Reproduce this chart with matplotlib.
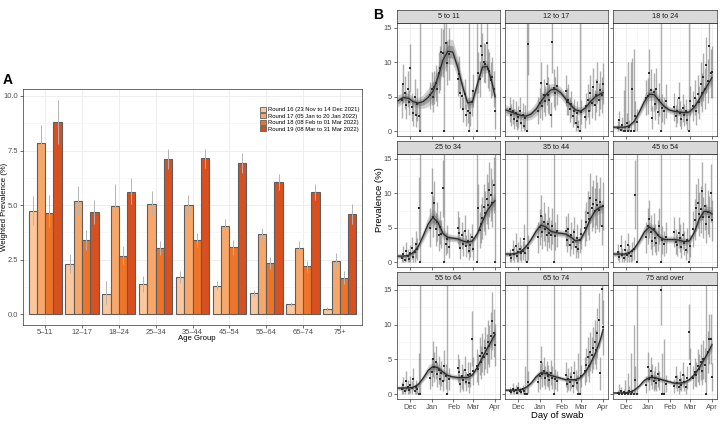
import numpy as np
import matplotlib.pyplot as plt
from matplotlib.patches import Patch

plt.rcParams['font.family'] = ['Liberation Sans', 'DejaVu Sans']

# ---------------- panel A data ----------------
age_groups = ['5–11', '12–17', '18–24', '25–34', '35–44', '45–54', '55–64', '65–74', '75+']
round_names = ['Round 16 (23 Nov to 14 Dec 2021)', 'Round 17 (05 Jan to 20 Jan 2022)',
               'Round 18 (08 Feb to 01 Mar 2022)', 'Round 19 (08 Mar to 31 Mar 2022)']
round_colors = ['#fcc89b', '#f8a76a', '#f07428', '#d8501f']

r16_mid = [4.72, 2.32, 0.93, 1.37, 1.71, 1.31, 0.98, 0.49, 0.23]
r16_lo = [4.10, 1.89, 0.45, 1.02, 1.44, 1.10, 0.82, 0.40, 0.15]
r16_hi = [5.42, 2.78, 1.51, 1.74, 1.98, 1.53, 1.13, 0.58, 0.32]
r17_mid = [7.84, 5.19, 4.95, 5.07, 5.01, 4.05, 3.69, 3.05, 2.46]
r17_lo = [7.08, 4.53, 4.09, 4.53, 4.56, 3.69, 3.39, 2.75, 2.12]
r17_hi = [8.66, 5.89, 5.95, 5.63, 5.45, 4.38, 3.97, 3.34, 2.79]
r18_mid = [4.66, 3.42, 2.69, 3.04, 3.42, 3.08, 2.37, 2.20, 1.68]
r18_lo = [4.00, 2.96, 2.29, 2.70, 3.08, 2.73, 2.09, 1.92, 1.37]
r18_hi = [5.48, 3.88, 3.15, 3.34, 3.74, 3.42, 2.63, 2.46, 2.00]
r19_mid = [8.79, 4.69, 5.62, 7.11, 7.15, 6.95, 6.08, 5.62, 4.60]
r19_lo = [7.82, 4.15, 5.04, 6.67, 6.70, 6.47, 5.71, 5.25, 4.12]
r19_hi = [9.80, 5.25, 6.23, 7.56, 7.59, 7.40, 6.44, 5.98, 5.05]

# ---------------- panel B data ----------------
# days counted from 1 Nov 2021
month_days = [30, 61, 92, 120, 151]
month_labels = ['Dec', 'Jan', 'Feb', 'Mar', 'Apr']

swab_days = [19, 21, 23, 25, 27, 29, 31, 33, 35, 37, 39, 41, 43, 45,
             59, 61, 63, 65, 67, 69, 71, 73, 75, 77, 79, 81, 83, 86,
             98, 100, 102, 104, 106, 108, 110, 112, 114, 116, 118, 120,
             125, 127, 129, 131, 133, 135, 137, 139, 141, 143, 145, 147, 149, 151]
knot_days = [13, 21, 28, 35, 42, 49, 56, 63, 70, 77, 84, 91, 98, 105, 112, 119, 126, 133, 140, 147, 151]

p_5_11 = [4.5, 6.9, 5.6, 3.8, 6.1, 4.2, 9.2, 3.5, 2.6, 5.0, 2.4, 3.9, 2.2, 0.0,
          5.2, 6.2, 5.0, 6.4, 7.0, 6.1, 8.5, 9.2, 11.5, 11.3, 0.0, 12.8, 9.9, 11.2,
          7.6, 8.3, 5.6, 5.1, 3.2, 5.4, 2.4, 3.0, 0.0, 2.6, 4.2, 5.9,
          0.0, 8.5, 7.6, 12.4, 11.0, 10.0, 9.8, 12.8, 9.1, 8.7, 7.5, 7.9, 6.1, 3.0]
e_5_11 = [2.5, 2.8, 2.4, 2.0, 2.6, 1.8, 3.5, 2.0, 1.8, 2.6, 1.8, 2.4, 2.0, 16,
          2.0, 2.4, 2.2, 2.4, 2.6, 2.4, 3.0, 3.2, 3.5, 3.5, 16, 4.0, 3.2, 3.8,
          2.5, 2.6, 2.2, 2.0, 1.8, 2.2, 1.6, 1.8, 16, 1.8, 2.0, 2.4,
          16, 3.0, 2.6, 3.5, 3.2, 2.8, 2.8, 3.5, 2.8, 2.8, 2.6, 2.8, 2.6, 2.6]
fit_5_11 = [4.4, 4.9, 4.8, 4.3, 4.1, 4.3, 4.9, 5.8, 7.8, 10.3, 11.6, 11.5, 9.3, 6.5, 4.1, 4.3, 6.9, 9.3, 9.4, 6.9, 5.0]
band_5_11 = [0.9, 0.7, 0.7, 0.7, 0.7, 1.0, 1.3, 1.5, 1.6, 1.8, 1.8, 1.8, 1.5, 1.0, 0.8, 0.8, 0.9, 0.9, 0.9, 1.0, 1.2]

p_12_17 = [3.2, 2.4, 2.9, 1.8, 2.6, 1.5, 2.1, 3.0, 1.2, 2.3, 0.8, 2.0, 0.0, 12.7,
           3.0, 4.1, 7.0, 3.6, 5.2, 4.4, 6.8, 5.3, 4.6, 2.4, 13.0, 6.3, 5.5, 6.6,
           5.9, 4.3, 4.6, 3.2, 3.9, 2.2, 2.9, 1.2, 2.6, 0.6, 0.0, 2.8,
           2.1, 3.6, 4.5, 3.0, 5.6, 4.1, 6.4, 3.8, 5.2, 7.1, 4.6, 6.0, 5.3, 6.9]
e_12_17 = [1.8, 1.6, 1.8, 1.4, 1.8, 1.3, 1.6, 2.0, 1.2, 1.8, 1.0, 1.8, 16, 4.5,
           2.0, 2.2, 3.0, 2.0, 2.4, 2.2, 3.0, 2.6, 2.2, 1.8, 4.5, 2.8, 2.4, 2.8,
           2.2, 2.0, 2.2, 1.8, 2.0, 1.6, 1.8, 1.2, 1.8, 1.0, 16, 1.8,
           1.6, 2.0, 2.4, 2.0, 2.6, 2.2, 2.8, 2.2, 2.4, 3.0, 2.4, 2.8, 2.6, 3.0]
fit_12_17 = [3.1, 2.8, 2.5, 2.3, 2.2, 2.5, 3.2, 4.3, 5.3, 6.0, 6.1, 5.6, 4.7, 3.8, 3.1, 2.9, 3.4, 4.3, 5.0, 5.4, 5.6]
band_12_17 = [0.8, 0.6, 0.6, 0.6, 0.6, 0.8, 1.0, 1.1, 1.0, 0.9, 0.8, 0.8, 0.8, 0.7, 0.6, 0.6, 0.6, 0.7, 0.7, 0.8, 1.0]

p_18_24 = [0.5, 1.6, 0.2, 0.9, 0.0, 0.0, 1.2, 0.0, 0.6, 0.0, 6.1, 0.0, 2.2, 1.4,
           4.9, 5.1, 8.5, 6.0, 2.0, 5.7, 3.9, 6.2, 2.8, 4.6, 0.0, 3.4, 3.0, 4.4,
           3.5, 2.2, 3.0, 4.8, 2.6, 1.8, 3.4, 2.3, 2.9, 1.6, 0.0, 4.4,
           3.7, 4.9, 2.9, 5.4, 4.2, 6.8, 5.6, 7.9, 6.2, 9.6, 7.3, 12.3, 8.4, 8.6]
e_18_24 = [1.0, 1.4, 0.8, 1.2, 6.0, 8.0, 1.4, 10.0, 1.0, 10.0, 4.5, 12.0, 2.2, 1.8,
           2.6, 2.6, 3.5, 3.0, 1.6, 2.8, 2.2, 3.0, 1.8, 2.4, 16, 2.0, 2.0, 2.4,
           2.0, 1.6, 1.8, 2.4, 1.8, 1.4, 2.0, 1.6, 1.8, 1.4, 16, 2.2,
           2.2, 2.6, 2.0, 2.8, 2.4, 3.2, 2.8, 3.5, 3.0, 4.0, 3.2, 4.5, 3.6, 3.8]
fit_18_24 = [0.6, 0.6, 0.6, 0.8, 1.5, 2.8, 4.3, 5.4, 5.3, 4.4, 3.6, 3.1, 2.9, 2.8, 2.7, 2.8, 3.5, 4.6, 5.9, 7.1, 7.8]
band_18_24 = [0.3, 0.3, 0.3, 0.3, 0.4, 0.7, 0.9, 0.9, 0.8, 0.7, 0.6, 0.5, 0.5, 0.5, 0.5, 0.5, 0.6, 0.7, 0.8, 0.9, 1.1]

p_25_34 = [0.6, 1.2, 0.3, 1.6, 0.9, 0.5, 1.3, 2.1, 0.8, 1.5, 2.6, 1.9, 7.8, 0.0,
           5.0, 10.1, 6.6, 8.6, 4.8, 5.9, 3.9, 5.1, 4.1, 10.7, 0.0, 2.6, 3.4, 2.2,
           5.0, 4.3, 2.1, 3.9, 2.7, 4.6, 2.3, 3.1, 1.6, 2.5, 3.6, 2.0,
           0.0, 7.9, 4.7, 5.6, 6.4, 8.0, 7.1, 9.2, 8.3, 10.5, 9.8, 8.6, 11.2, 0.0]
e_25_34 = [0.8, 1.2, 0.6, 1.4, 1.0, 0.8, 1.2, 1.6, 1.0, 1.4, 2.0, 1.6, 4.5, 16,
           2.8, 3.5, 3.0, 3.2, 2.4, 2.8, 2.2, 2.4, 2.0, 4.2, 16, 1.6, 2.0, 1.6,
           2.4, 2.2, 1.6, 2.0, 1.8, 2.2, 1.6, 1.8, 1.2, 1.8, 2.0, 1.6,
           16, 3.4, 2.6, 2.8, 3.0, 3.4, 3.2, 3.6, 3.4, 4.0, 3.8, 3.5, 4.0, 16]
fit_25_34 = [0.9, 0.9, 1.0, 1.4, 2.3, 3.8, 5.5, 6.5, 5.8, 4.2, 3.6, 3.5, 3.4, 3.1, 2.9, 3.1, 4.2, 5.9, 7.5, 8.5, 8.9]
band_25_34 = [0.4, 0.3, 0.3, 0.4, 0.5, 0.8, 1.1, 1.3, 1.1, 0.8, 0.6, 0.5, 0.5, 0.5, 0.5, 0.5, 0.6, 0.8, 0.9, 1.0, 1.3]

p_35_44 = [1.0, 0.6, 1.8, 1.2, 2.4, 0.9, 1.5, 2.0, 1.3, 1.7, 3.4, 1.4, 0.0, 2.1,
           3.6, 5.1, 6.7, 4.4, 5.9, 4.8, 3.9, 5.6, 4.3, 4.0, 5.2, 0.0, 3.8, 4.6,
           4.5, 3.3, 4.8, 2.5, 3.9, 3.0, 4.4, 2.2, 3.5, 2.0, 3.2, 4.1,
           5.0, 5.9, 7.1, 6.3, 9.3, 7.8, 8.5, 7.5, 9.0, 8.3, 7.6, 8.8, 5.3, 8.2]
e_35_44 = [1.0, 0.8, 1.4, 1.2, 1.8, 1.0, 1.4, 1.6, 1.2, 1.4, 2.2, 1.3, 16, 1.8,
           2.2, 2.6, 3.0, 2.4, 2.8, 2.4, 2.2, 2.6, 2.2, 2.2, 2.6, 16, 2.0, 2.4,
           2.2, 1.8, 2.4, 1.6, 2.0, 1.8, 2.2, 1.6, 2.0, 1.4, 1.8, 2.2,
           2.6, 2.8, 3.2, 3.0, 3.6, 3.2, 3.4, 3.2, 3.6, 3.4, 3.2, 3.6, 2.8, 3.5]
fit_35_44 = [1.2, 1.2, 1.3, 1.6, 2.3, 3.3, 4.5, 5.4, 5.1, 4.5, 4.3, 4.2, 4.1, 3.7, 3.1, 3.3, 4.6, 6.3, 7.5, 8.0, 8.1]
band_35_44 = [0.4, 0.3, 0.3, 0.3, 0.4, 0.6, 0.8, 0.9, 0.8, 0.6, 0.5, 0.5, 0.5, 0.5, 0.5, 0.5, 0.6, 0.7, 0.8, 0.8, 1.0]

p_45_54 = [1.5, 0.8, 2.3, 1.1, 0.6, 1.8, 1.0, 2.5, 1.3, 0.9, 1.6, 2.0, 9.8, 0.0,
           3.6, 5.2, 6.3, 4.4, 3.1, 4.8, 3.5, 2.8, 3.9, 5.3, 0.0, 3.2, 2.7, 3.6,
           4.4, 3.0, 2.5, 4.3, 3.5, 2.2, 3.9, 2.8, 1.8, 3.2, 0.0, 2.4,
           4.8, 6.2, 7.9, 8.6, 7.0, 7.7, 10.3, 6.5, 8.1, 5.6, 7.3, 6.6, 10.0, 6.1]
e_45_54 = [1.2, 0.9, 1.6, 1.0, 0.8, 1.4, 1.0, 1.8, 1.2, 1.0, 1.4, 1.6, 5.0, 16,
           2.2, 2.6, 2.8, 2.4, 2.0, 2.4, 2.0, 1.8, 2.2, 2.6, 16, 2.0, 1.8, 2.2,
           2.2, 1.8, 1.6, 2.2, 2.0, 1.6, 2.0, 1.8, 1.4, 1.8, 16, 1.6,
           2.6, 3.0, 3.4, 3.6, 3.2, 3.4, 4.2, 3.0, 3.4, 2.8, 3.2, 3.0, 4.2, 3.0]
fit_45_54 = [1.2, 1.2, 1.2, 1.4, 2.0, 3.1, 4.4, 5.1, 4.6, 3.7, 3.3, 3.3, 3.3, 3.2, 3.0, 3.1, 4.3, 6.3, 7.4, 7.3, 7.0]
band_45_54 = [0.4, 0.3, 0.3, 0.3, 0.4, 0.6, 0.8, 0.8, 0.7, 0.6, 0.5, 0.5, 0.5, 0.5, 0.5, 0.5, 0.6, 0.7, 0.8, 0.8, 1.0]

p_55_64 = [0.8, 1.3, 0.5, 1.9, 1.0, 0.6, 1.4, 0.9, 2.2, 0.4, 1.1, 0.7, 0.0, 0.0,
           2.3, 3.2, 5.1, 3.9, 4.6, 2.9, 3.5, 2.2, 3.0, 1.9, 4.1, 2.6, 0.0, 2.2,
           3.8, 3.2, 1.5, 2.6, 2.0, 3.5, 1.8, 2.8, 1.6, 2.9, 8.0, 3.3,
           4.1, 3.6, 5.5, 4.6, 6.0, 5.3, 6.6, 5.8, 7.5, 6.9, 8.4, 10.5, 8.8, 7.1]
e_55_64 = [0.9, 1.2, 0.7, 1.4, 1.0, 0.8, 1.2, 1.0, 1.6, 0.6, 1.0, 0.9, 6.0, 16,
           1.6, 2.0, 2.6, 2.2, 2.4, 1.8, 2.0, 1.6, 1.8, 1.4, 2.2, 1.8, 16, 1.6,
           2.0, 1.8, 1.2, 1.8, 1.6, 2.0, 1.4, 1.8, 1.4, 1.8, 4.0, 2.0,
           2.4, 2.2, 2.8, 2.4, 2.8, 2.6, 3.0, 2.8, 3.2, 3.0, 3.4, 4.2, 3.4, 3.0]
fit_55_64 = [0.9, 0.9, 0.9, 1.0, 1.4, 2.3, 3.4, 4.0, 3.8, 3.2, 2.7, 2.5, 2.4, 2.4, 2.4, 2.8, 3.9, 5.3, 6.6, 7.9, 8.6]
band_55_64 = [0.3, 0.3, 0.3, 0.3, 0.4, 0.5, 0.7, 0.7, 0.6, 0.5, 0.4, 0.4, 0.4, 0.4, 0.4, 0.4, 0.5, 0.6, 0.7, 0.8, 1.0]

p_65_74 = [0.5, 0.3, 0.8, 0.4, 0.6, 0.2, 0.9, 0.5, 0.3, 0.7, 0.4, 0.0, 0.0, 1.8,
           1.7, 2.6, 4.6, 2.9, 3.4, 2.4, 3.0, 2.6, 2.0, 3.1, 2.4, 0.0, 2.2, 1.9,
           2.8, 1.5, 2.2, 1.8, 2.5, 1.2, 3.0, 2.1, 1.6, 0.0, 0.0, 2.6,
           3.3, 4.2, 5.4, 4.0, 6.1, 5.6, 6.6, 7.5, 6.4, 8.8, 10.6, 3.0, 15.1, 9.6]
e_65_74 = [0.6, 0.5, 0.8, 0.5, 0.7, 0.4, 0.9, 0.6, 0.5, 0.7, 0.5, 4.0, 16, 1.6,
           1.4, 1.8, 2.4, 1.8, 2.0, 1.6, 1.8, 1.6, 1.4, 1.8, 1.6, 16, 1.4, 1.4,
           1.8, 1.2, 1.6, 1.4, 1.6, 1.0, 1.8, 1.4, 1.2, 6.0, 16, 1.6,
           2.0, 2.4, 2.8, 2.2, 2.8, 2.6, 3.0, 3.2, 2.8, 3.6, 4.0, 2.4, 5.0, 4.0]
fit_65_74 = [0.6, 0.6, 0.6, 0.7, 1.0, 1.6, 2.5, 3.1, 3.0, 2.7, 2.5, 2.3, 2.1, 2.1, 2.1, 2.4, 3.2, 4.4, 5.9, 7.8, 9.3]
band_65_74 = [0.2, 0.2, 0.2, 0.2, 0.3, 0.4, 0.5, 0.5, 0.5, 0.4, 0.4, 0.3, 0.3, 0.3, 0.3, 0.4, 0.4, 0.5, 0.6, 0.8, 1.0]

p_75 = [0.2, 0.0, 0.4, 0.1, 0.3, 0.0, 0.2, 0.0, 0.5, 0.0, 0.3, 0.0, 2.1, 0.0,
        1.4, 3.9, 2.2, 3.3, 2.6, 1.9, 2.4, 1.6, 2.9, 2.0, 15.0, 0.0, 0.0, 1.5,
        1.2, 2.5, 1.6, 1.0, 2.0, 1.4, 2.8, 1.7, 1.1, 2.4, 9.0, 4.3,
        2.4, 3.2, 2.8, 4.1, 3.6, 4.6, 3.3, 5.0, 4.2, 0.0, 6.1, 8.0, 7.9, 2.5]
e_75 = [0.4, 1.5, 0.6, 0.3, 0.5, 2.0, 0.4, 3.0, 0.7, 6.0, 0.5, 10.0, 2.0, 16,
        1.2, 2.2, 1.6, 2.0, 1.8, 1.4, 1.6, 1.2, 1.8, 1.4, 5.0, 6.0, 8.0, 1.2,
        1.0, 1.6, 1.2, 0.9, 1.4, 1.0, 1.8, 1.2, 1.0, 1.6, 4.0, 2.4,
        1.6, 2.0, 1.8, 2.4, 2.2, 2.6, 2.0, 2.8, 2.4, 16, 3.0, 3.6, 3.6, 2.0]
fit_75 = [0.2, 0.2, 0.2, 0.3, 0.6, 1.2, 2.0, 2.4, 2.4, 2.2, 2.0, 1.8, 1.6, 1.6, 1.7, 2.1, 2.8, 3.8, 5.0, 6.3, 7.1]
band_75 = [0.2, 0.1, 0.1, 0.1, 0.2, 0.3, 0.4, 0.5, 0.4, 0.4, 0.3, 0.3, 0.3, 0.3, 0.3, 0.3, 0.4, 0.5, 0.6, 0.7, 0.9]

facets = [('5 to 11', p_5_11, e_5_11, fit_5_11, band_5_11),
          ('12 to 17', p_12_17, e_12_17, fit_12_17, band_12_17),
          ('18 to 24', p_18_24, e_18_24, fit_18_24, band_18_24),
          ('25 to 34', p_25_34, e_25_34, fit_25_34, band_25_34),
          ('35 to 44', p_35_44, e_35_44, fit_35_44, band_35_44),
          ('45 to 54', p_45_54, e_45_54, fit_45_54, band_45_54),
          ('55 to 64', p_55_64, e_55_64, fit_55_64, band_55_64),
          ('65 to 74', p_65_74, e_65_74, fit_65_74, band_65_74),
          ('75 and over', p_75, e_75, fit_75, band_75)]

W, H = 721, 426
fig = plt.figure(figsize=(W / 100, H / 100), dpi=100)


def px_axes(left, top, right, bottom):
    return fig.add_axes([left / W, 1 - bottom / H, (right - left) / W, (bottom - top) / H])


# ---------------- panel A ----------------
ax = px_axes(23, 89, 362, 325)
x = np.arange(len(age_groups))
bw = 0.225
mids = [r16_mid, r17_mid, r18_mid, r19_mid]
los = [r16_lo, r17_lo, r18_lo, r19_lo]
his = [r16_hi, r17_hi, r18_hi, r19_hi]
for j in range(4):
    xs = x + (j - 1.5) * bw
    ax.bar(xs, mids[j], width=bw, color=round_colors[j], edgecolor='#5e5e5e', linewidth=0.8, zorder=2)
    ax.vlines(xs, los[j], his[j], color='#b4b4b4', linewidth=0.7, zorder=3)

ax.set_xlim(-0.6, 8.6)
ax.set_ylim(-0.49, 10.32)
ax.set_yticks([0, 2.5, 5, 7.5, 10])
ax.set_yticklabels(['0.0', '2.5', '5.0', '7.5', '10.0'])
ax.set_yticks([1.25, 3.75, 6.25, 8.75], minor=True)
ax.set_xticks(x)
ax.set_xticklabels(age_groups)
ax.grid(True, which='major', color='#ebebeb', linewidth=0.6, zorder=0)
ax.grid(True, which='minor', axis='y', color='#f2f2f2', linewidth=0.4, zorder=0)
ax.set_axisbelow(True)
ax.tick_params(axis='both', which='major', labelsize=5.4, labelcolor='#4d4d4d', length=2,
               width=0.5, color='#333333', pad=1.5)
ax.tick_params(axis='x', which='major', pad=0.8)
ax.tick_params(axis='both', which='minor', length=0)
for s in ax.spines.values():
    s.set_color('#333333')
    s.set_linewidth(0.5)
handles = [Patch(facecolor=c, edgecolor='#5e5e5e', linewidth=0.6) for c in round_colors]
ax.legend(handles, round_names, loc='upper left', bbox_to_anchor=(0.70, 0.925), fontsize=4.2,
          frameon=False, handlelength=0.9, handleheight=1.0, handletextpad=0.4,
          labelspacing=0.15, borderaxespad=0, borderpad=0)
fig.text(5 / W, 1 - 207 / H, 'Weighted Prevalence (%)', fontsize=5.6, rotation=90,
         va='center', ha='center')
fig.text(197 / W, 1 - 338.5 / H, 'Age Group', fontsize=5.6, va='center', ha='center')
fig.text(3 / W, 1 - 80 / H, 'A', fontsize=10, fontweight='bold', va='center', ha='left')

# ---------------- panel B ----------------
col_left = [397, 505, 613]
col_right = [500, 608, 717]
row_strip = [10, 141, 272]
row_top = [23, 154, 285]
row_bottom = [136, 267, 399]
minor_days = [14.5, 45.5, 76.5, 106, 135.5]

for k, (name, vals, errs, fit, band) in enumerate(facets):
    r, c = divmod(k, 3)
    a = px_axes(col_left[c], row_top[r], col_right[c], row_bottom[r])
    vals = np.array(vals)
    errs = np.array(errs)
    fit = np.array(fit)
    band = np.array(band)
    a.fill_between(knot_days, fit - band, fit + band, color='#9c9c9c', alpha=0.45, linewidth=0, zorder=2)
    a.fill_between(knot_days, fit - band * 0.5, fit + band * 0.5, color='#6a6a6a', alpha=0.5,
                   linewidth=0, zorder=2)
    a.vlines(swab_days, np.clip(vals - errs, 0, None), vals + errs, color='#6e6e6e', alpha=0.55,
             linewidth=1.0, zorder=3)
    a.plot(swab_days, vals, 's', color='#2f2f2f', markersize=1.5, markeredgewidth=0, zorder=4)
    a.plot(knot_days, fit, color='#2a2a2a', linewidth=0.9, zorder=5)
    a.set_xlim(12, 158)
    a.set_ylim(-0.68, 15.7)
    a.set_xticks(month_days)
    a.set_xticks(minor_days, minor=True)
    a.set_yticks([0, 5, 10, 15])
    a.set_yticks([2.5, 7.5, 12.5], minor=True)
    a.grid(True, which='major', color='#ebebeb', linewidth=0.6, zorder=0)
    a.grid(True, which='minor', color='#f3f3f3', linewidth=0.4, zorder=0)
    a.tick_params(axis='both', which='major', labelsize=5.4, labelcolor='#4d4d4d', length=2,
                  width=0.5, color='#333333', pad=1.5)
    a.tick_params(axis='both', which='minor', length=0)
    a.set_xticklabels(month_labels if r == 2 else [])
    a.set_yticklabels(['0', '5', '10', '15'] if c == 0 else [])
    for s in a.spines.values():
        s.set_color('#333333')
        s.set_linewidth(0.5)
    st = px_axes(col_left[c], row_strip[r], col_right[c], row_top[r])
    st.set_facecolor('#d9d9d9')
    st.set_xticks([])
    st.set_yticks([])
    for s in st.spines.values():
        s.set_color('#333333')
        s.set_linewidth(0.5)
    st.text(0.5, 0.5, name, fontsize=5.2, color='#1a1a1a', ha='center', va='center',
            transform=st.transAxes)

fig.text(373 / W, 1 - 15 / H, 'B', fontsize=10, fontweight='bold', va='center', ha='left')
fig.text(380 / W, 1 - 200 / H, 'Prevalence (%)', fontsize=6.8, rotation=90, va='center', ha='center')
fig.text(557 / W, 1 - 416 / H, 'Day of swab', fontsize=6.8, va='center', ha='center')

fig.savefig('out.png', dpi=100, facecolor='white')
